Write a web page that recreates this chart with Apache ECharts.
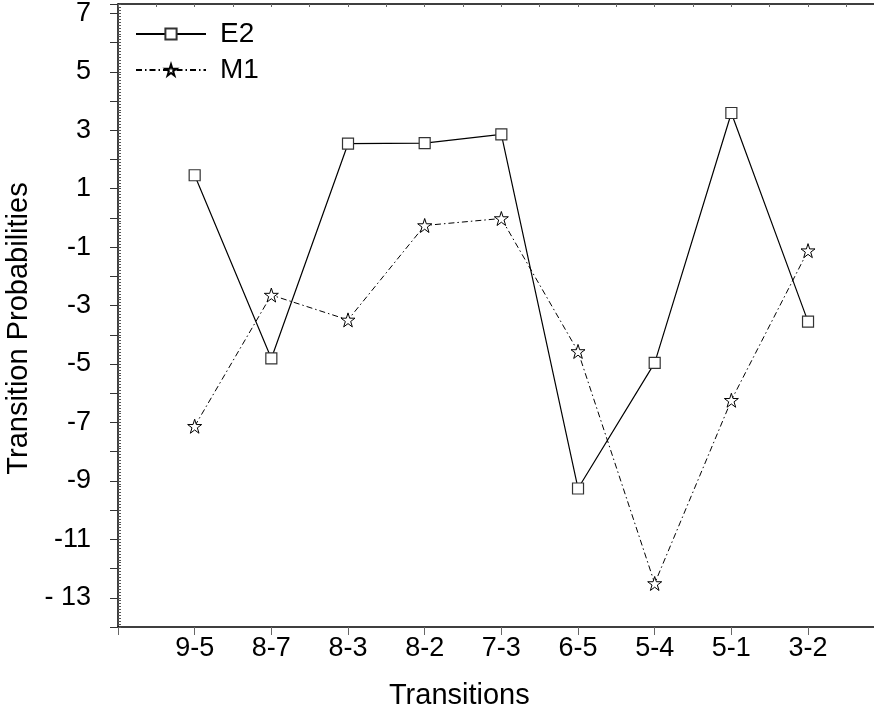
<!DOCTYPE html>
<html>
<head>
<meta charset="utf-8">
<script src="https://cdn.jsdelivr.net/npm/echarts@6/dist/echarts.min.js"></script>
<style>
  html, body { margin: 0; padding: 0; background: #fff; }
  #chart { width: 874px; height: 719px; }
</style>
</head>
<body>
<div id="chart"></div>
<script>
const categories = ['9-5', '8-7', '8-3', '8-2', '7-3', '6-5', '5-4', '5-1', '3-2']
const e2 = [1.46, -4.81, 2.54, 2.56, 2.86, -9.26, -4.96, 3.59, -3.55]
const m1 = [-7.13, -2.64, -3.49, -0.26, -0.02, -4.57, -12.51, -6.24, -1.12]
const yLabels = [7, 5, 3, 1, -1, -3, -5, -7, -9, -11, -13]

const FONT = '"Liberation Sans", Arial, sans-serif'
const STAR = 'path://M50,2 L61,36 L97,36 L68,57 L79,92 L50,71 L21,92 L32,57 L3,36 L39,36 Z'

const toPoints = vals => vals.map((v, i) => [i + 1, v])

const chart = echarts.init(document.getElementById('chart'))

chart.setOption({
  backgroundColor: '#fff',
  animation: false,
  textStyle: { fontFamily: FONT },
  grid: { left: 118, right: -10.7, top: 4, bottom: 92, outerBoundsMode: 'none' },
  legend: {
    orient: 'vertical',
    left: 130,
    top: 15,
    itemWidth: 70,
    itemHeight: 14,
    itemGap: 8,
    textStyle: { color: '#000', fontSize: 28, fontFamily: FONT, padding: [0, 0, 0, 9] },
    data: ['E2', 'M1'],
  },
  xAxis: [
    {
      type: 'value',
      min: 0,
      max: 10,
      interval: 1,
      name: 'Transitions',
      nameLocation: 'middle',
      nameGap: 54,
      nameTextStyle: { color: '#000', fontSize: 29, padding: [0, 84, 0, 0] },
      axisLine: { onZero: false, lineStyle: { color: '#000', width: 1.5 } },
      axisTick: { length: 8, lineStyle: { color: '#666' } },
      axisLabel: {
        color: '#000',
        fontSize: 27,
        margin: 8,
        formatter: v => categories[v - 1] || '',
      },
      splitLine: { show: false },
    },
    {
      type: 'value',
      position: 'top',
      min: 0,
      max: 10,
      interval: 0.5,
      axisLine: { onZero: false, lineStyle: { color: '#000', width: 1.5 } },
      axisTick: { inside: true, length: 3, lineStyle: { color: '#666' } },
      axisLabel: { show: false },
      splitLine: { show: false },
    },
  ],
  yAxis: [
    {
      type: 'value',
      position: 'left',
      min: -14,
      max: 7.32,
      interval: 1,
      name: 'Transition Probabilities',
      nameLocation: 'middle',
      nameGap: 82,
      nameTextStyle: { color: '#000', fontSize: 29, padding: [0, 26, 0, 0] },
      axisLine: { show: true, onZero: false, lineStyle: { color: '#000', width: 1.5 } },
      axisTick: { length: 8, lineStyle: { color: '#333' } },
      axisLabel: {
        color: '#000',
        fontSize: 27,
        margin: 27,
        formatter: v => {
          if (!yLabels.includes(v)) return ''
          return v === -13 ? '- 13' : String(v)
        },
      },
      splitLine: { show: false },
    },
    {
      type: 'value',
      position: 'left',
      min: -14,
      max: 7.32,
      interval: 0.1,
      axisLine: { show: false, onZero: false },
      axisTick: { show: true, inside: true, length: 3, lineStyle: { color: '#555' } },
      axisLabel: { show: false },
      splitLine: { show: false },
    },
  ],
  series: [
    {
      name: 'E2',
      type: 'line',
      data: toPoints(e2),
      symbol: 'rect',
      symbolSize: 11,
      itemStyle: { color: '#fff', borderColor: '#333', borderWidth: 1.2 },
      lineStyle: { color: '#000', width: 1.2, type: 'solid' },
      z: 3,
    },
    {
      name: 'M1',
      type: 'line',
      data: toPoints(m1),
      symbol: STAR,
      symbolSize: 14,
      itemStyle: { color: '#fff', borderColor: '#000', borderWidth: 1 },
      lineStyle: { color: '#000', width: 1, type: [6, 3, 1.5, 3] },
      z: 2,
    },
  ],
})
</script>
</body>
</html>
